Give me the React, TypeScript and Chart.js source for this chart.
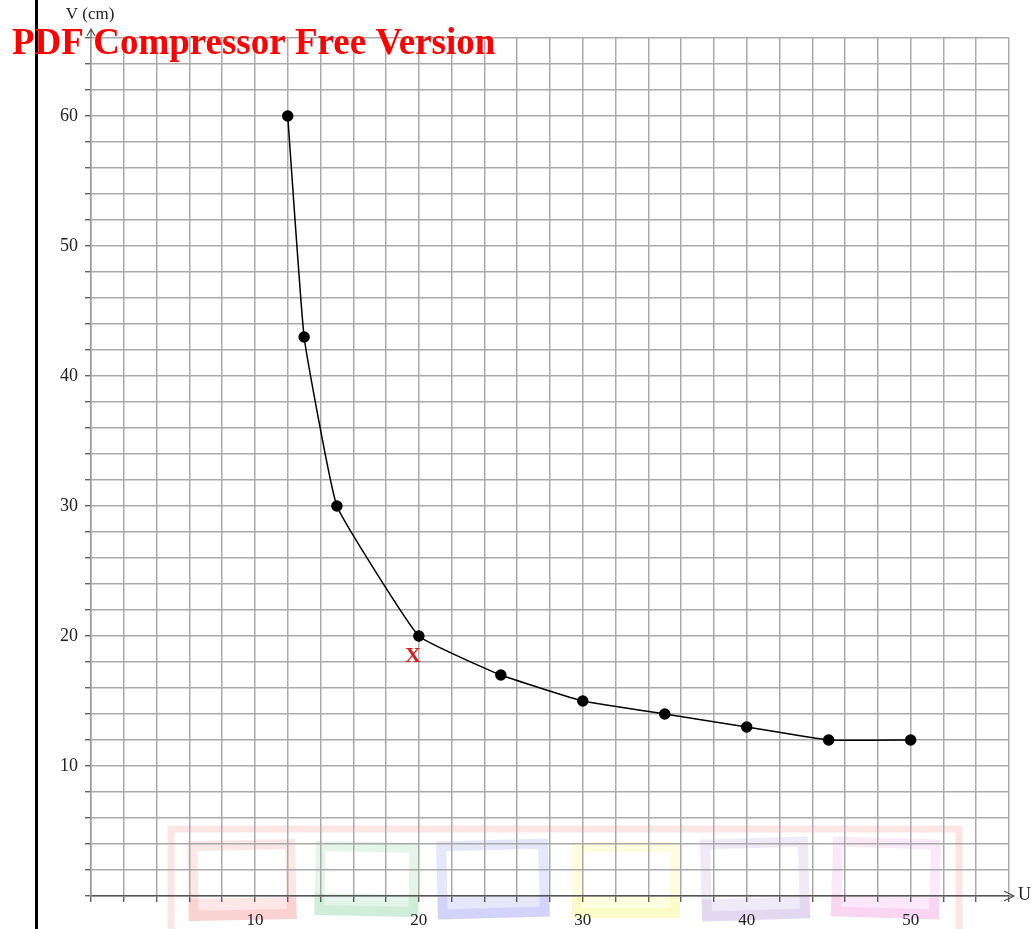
import React, { useEffect, useRef } from 'react';
import { Chart, registerables } from 'chart.js';

Chart.register(...registerables);

const uValues = [12, 13, 15, 20, 25, 30, 35, 40, 45, 50];
const vValues = [60, 43, 30, 20, 17, 15, 14, 13, 12, 12];
const xTickLabels = [10, 20, 30, 40, 50];
const yTickLabels = [10, 20, 30, 40, 50, 60];
const xMin = 0;
const xMax = 56;
const yMin = 0;
const yMax = 66;
const gridStep = 2;
const markedU = 20;
const markedV = 20;
const xAxisTitle = 'U';
const yAxisTitle = 'V (cm)';
const watermarkText = 'PDF Compressor Free Version';

const SERIF = '"Liberation Serif", "DejaVu Serif", serif';

const watermarkBoxes = [
  { x: 188, y: 840, w: 108, h: 80, color: 'rgba(245,140,140,0.22)', rot: -0.02 },
  { x: 315, y: 842, w: 104, h: 74, color: 'rgba(130,210,160,0.22)', rot: 0.02 },
  { x: 437, y: 840, w: 112, h: 78, color: 'rgba(140,140,245,0.22)', rot: -0.025 },
  { x: 572, y: 842, w: 108, h: 76, color: 'rgba(250,250,150,0.3)', rot: 0 },
  { x: 701, y: 838, w: 108, h: 82, color: 'rgba(180,160,220,0.22)', rot: -0.03 },
  { x: 832, y: 838, w: 108, h: 80, color: 'rgba(235,150,225,0.22)', rot: 0.03 },
];

const decorPlugin = {
  id: 'decor',
  beforeDraw(chart: any) {
    const ctx = chart.ctx;
    ctx.save();
    ctx.fillStyle = '#ffffff';
    ctx.fillRect(0, 0, chart.width, chart.height);
    ctx.strokeStyle = 'rgba(250,170,170,0.3)';
    ctx.lineWidth = 7;
    ctx.strokeRect(171, 829, 788, 110);
    for (const b of watermarkBoxes) {
      ctx.save();
      ctx.translate(b.x + b.w / 2, b.y + b.h / 2);
      ctx.rotate(b.rot);
      ctx.strokeStyle = b.color;
      ctx.lineWidth = 10;
      ctx.strokeRect(-b.w / 2 + 5, -b.h / 2 + 5, b.w - 10, b.h - 10);
      ctx.fillStyle = b.color;
      ctx.fillRect(-b.w / 2, b.h / 2 - 22, b.w, 22);
      ctx.restore();
    }
    ctx.restore();
  },
  afterDraw(chart: any) {
    const ctx = chart.ctx;
    const xs = chart.scales.x;
    const ys = chart.scales.y;
    const x0 = xs.getPixelForValue(xMin);
    const xEnd = xs.getPixelForValue(xMax);
    const y0 = ys.getPixelForValue(yMin);
    const yEnd = ys.getPixelForValue(yMax);
    ctx.save();
    ctx.strokeStyle = '#555';
    ctx.lineWidth = 1.2;
    ctx.beginPath();
    ctx.moveTo(xEnd, y0);
    ctx.lineTo(xEnd + 5, y0);
    ctx.moveTo(xEnd - 5, y0 - 5);
    ctx.lineTo(xEnd + 5, y0);
    ctx.lineTo(xEnd - 5, y0 + 5);
    ctx.stroke();
    ctx.beginPath();
    ctx.moveTo(x0, yEnd);
    ctx.lineTo(x0, yEnd - 8);
    ctx.moveTo(x0 - 4, yEnd - 2);
    ctx.lineTo(x0, yEnd - 9);
    ctx.lineTo(x0 + 4, yEnd - 2);
    ctx.stroke();
    ctx.fillStyle = '#222';
    ctx.font = '18px ' + SERIF;
    ctx.textBaseline = 'middle';
    ctx.textAlign = 'left';
    ctx.fillText(xAxisTitle, xEnd + 9, y0 - 1);
    ctx.font = '17px ' + SERIF;
    ctx.textAlign = 'center';
    ctx.fillText(yAxisTitle, x0 - 1, 15);
    const mx = xs.getPixelForValue(markedU);
    const my = ys.getPixelForValue(markedV);
    ctx.fillStyle = '#d81e1e';
    ctx.font = 'bold 22px ' + SERIF;
    ctx.textAlign = 'center';
    ctx.fillText('X', mx - 6, my + 20);
    ctx.fillStyle = '#000';
    ctx.fillRect(35, 0, 3, chart.height);
    ctx.fillStyle = '#ff0000';
    ctx.font = 'bold 37px ' + SERIF;
    ctx.textAlign = 'left';
    ctx.textBaseline = 'alphabetic';
    ctx.fillText(watermarkText, 12, 54);
    ctx.restore();
  },
};

export default function App() {
  const ref = useRef<HTMLCanvasElement | null>(null);
  useEffect(() => {
    document.body.style.margin = '0';
    if (!ref.current) return;
    const chart = new Chart(ref.current, {
      type: 'line',
      data: {
        datasets: [
          {
            data: uValues.map((u, i) => ({ x: u, y: vValues[i] })),
            borderColor: '#000',
            backgroundColor: '#000',
            borderWidth: 1.5,
            pointRadius: 5,
            pointHoverRadius: 5,
            pointBackgroundColor: '#000',
            pointBorderColor: '#000',
            tension: 0.1,
            fill: false,
          },
        ],
      },
      options: {
        responsive: false,
        animation: false,
        maintainAspectRatio: false,
        layout: { padding: { top: 38, right: 24, left: 0, bottom: 0 } },
        plugins: { legend: { display: false }, tooltip: { enabled: false } },
        scales: {
          x: {
            type: 'linear',
            min: xMin,
            max: xMax,
            afterFit: (s: any) => { s.height = 33; },
            ticks: {
              stepSize: gridStep,
              autoSkip: false,
              maxRotation: 0,
              padding: 8,
              color: '#222',
              font: { family: SERIF, size: 17 },
              callback: (v: any) => (xTickLabels.includes(Number(v)) ? String(v) : ''),
            },
            grid: { color: '#aaa', lineWidth: 1.5, tickLength: 6, tickColor: '#444', tickWidth: 1.2 },
            border: { color: '#555', width: 1.5 },
          },
          y: {
            type: 'linear',
            min: yMin,
            max: yMax,
            afterFit: (s: any) => { s.width = 91; },
            ticks: {
              stepSize: gridStep,
              autoSkip: false,
              padding: 7,
              color: '#222',
              font: { family: SERIF, size: 18 },
              callback: (v: any) => (yTickLabels.includes(Number(v)) ? String(v) : ''),
            },
            grid: { color: '#aaa', lineWidth: 1.5, tickLength: 6, tickColor: '#444', tickWidth: 1.2 },
            border: { color: '#999', width: 1.5 },
          },
        },
      },
      plugins: [decorPlugin],
    });
    return () => chart.destroy();
  }, []);
  return (
    <div style={{ position: 'absolute', left: 0, top: 0, width: 1033, height: 929 }}>
      <canvas ref={ref} width={1033} height={929} style={{ display: 'block', width: 1033, height: 929 }} />
    </div>
  );
}
